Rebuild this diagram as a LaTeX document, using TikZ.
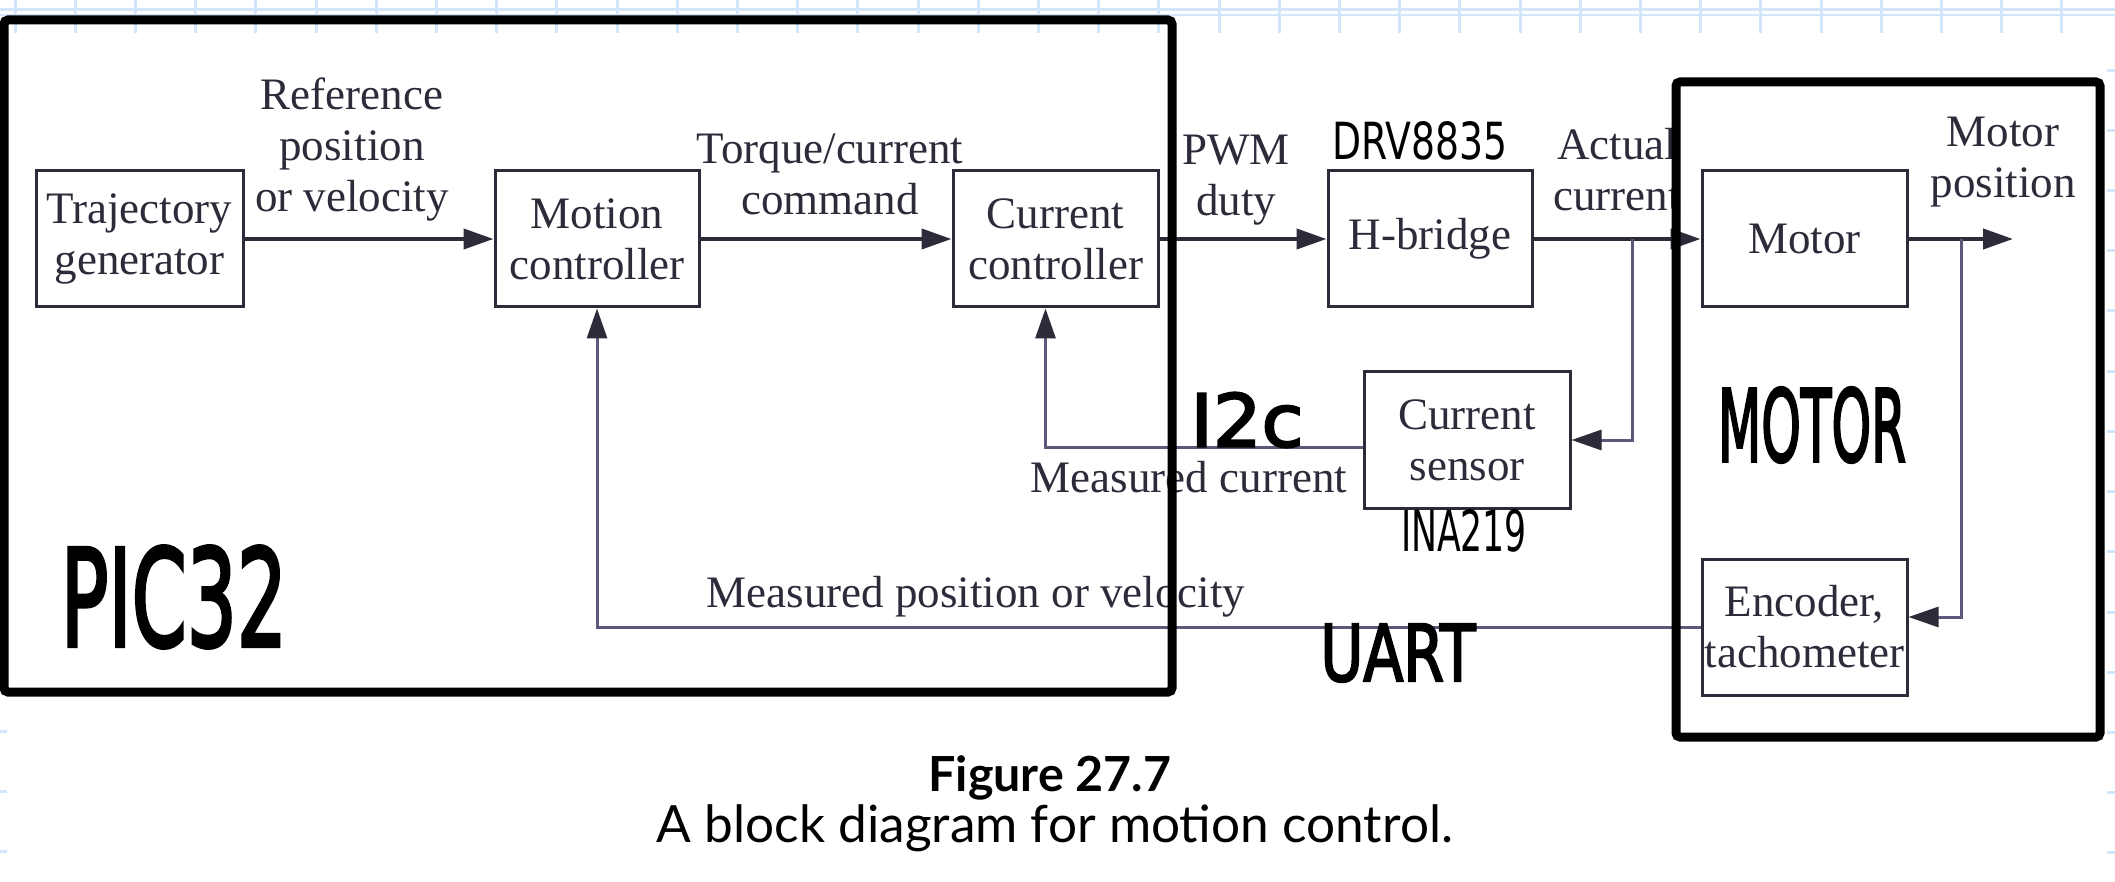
\documentclass[tikz,border=0pt]{standalone}
\usepackage{fontspec}
\setmainfont{Liberation Serif}
\newfontfamily\capfont{Lato}
\newfontfamily\hwfont{DejaVu Sans}
\newfontfamily\hwthick[FakeBold=3]{DejaVu Sans}
\usetikzlibrary{arrows.meta}
\definecolor{gridblue}{HTML}{D3E5FA}
\definecolor{ink}{HTML}{2B2B3A}
\definecolor{fbline}{HTML}{5A5A78}
\tikzset{
  blk/.style={draw=ink, line width=3pt, minimum width=205pt, minimum height=136pt,
    inner sep=0pt, align=center, font=\fontsize{45}{51}\selectfont, text=ink},
  lbl/.style={inner sep=0pt, align=center, font=\fontsize{45}{51}\selectfont, text=ink},
  sig/.style={draw=ink, line width=4pt, -{Triangle[length=30pt,width=20pt]}},
  fbarrow/.style={draw=fbline, line width=3pt, -{Triangle[length=30pt,width=20pt,color=ink]}},
  grp/.style={draw=black, line width=9pt, rounded corners=4pt},
  hw/.style={inner sep=0pt, text=black},
  gridln/.style={draw=gridblue, line width=3pt}
}
\begin{document}
\begin{tikzpicture}[x=1pt, y=-1pt]
\useasboundingbox (0,0) rectangle (2115,882);
\fill[white] (0,0) rectangle (2115,882);
% notebook grid at the margins
\foreach \k in {0,...,34} \draw[gridln] ({15+60.2*\k},0) -- ({15+60.2*\k},33);
\draw[gridblue, line width=2.5pt] (0,9.5) -- (2115,9.5);
\draw[gridblue, line width=2.5pt] (0,15) -- (2115,15);
\foreach \k in {1,...,14} \draw[gridln] (0,{9+60.2*\k}) -- (7,{9+60.2*\k});
\foreach \k in {1,...,14} \draw[gridln] (2107,{10+60.2*\k}) -- (2115,{10+60.2*\k});

% blocks
\node[blk, minimum width=207pt] (traj) at (139.5,239) {Trajectory\\generator};
\node[blk, minimum width=204pt] (motion) at (597,239) {Motion\\controller};
\node[blk] (curctl) at (1055.5,239) {Current\\controller};
\node[blk, minimum width=204pt] (hbr) at (1430,239) {H-bridge};
\node[blk] (motor) at (1804.5,239) {Motor};
\node[blk, minimum width=206pt] (sens) at (1467,440) {Current\\sensor};
\node[blk] (enc) at (1804.5,627) {Encoder,\\tachometer};

% labels
\node[lbl] (lref) at (352,150) {Reference\\position\\or velocity};
\node[lbl] (ltq) at (830,174) {Torque/current\\command};
\node[lbl] (lpwm) at (1236,180) {PWM\\duty};
\node[lbl] (lact) at (1617,170) {Actual\\current};
\node[lbl] (lmpos) at (2003,162) {Motor\\position};
\node[lbl] (lmcur) at (1189,477) {Measured current};
\node[lbl] (lmpv) at (976,597) {Measured position or velocity};

% connectors
\coordinate (mout) at (2013,239);
\coordinate (b1) at (1632,239);
\coordinate (b2) at (1961,239);
\draw[sig] (traj) -- (motion);
\draw[sig] (motion) -- (curctl);
\draw[sig] (curctl) -- (hbr);
\draw[sig] (hbr) -- (motor);
\draw[sig] (motor) -- (mout);
\draw[fbarrow] (b1) |- (sens.east);
\draw[fbarrow] ([yshift=-7pt]sens.west) -| ([xshift=-10pt]curctl.south);
\draw[fbarrow] (b2) |- ([yshift=10pt]enc.east);
\draw[fbarrow] (enc.west) -| (motion.south);

% hand-drawn groupings and notes
\draw[grp] (4,20) rectangle (1172,692);
\draw[grp] (1676,82) rectangle (2100,737);
\node[hw] (tpic) at (174,597) {\resizebox{226pt}{100pt}{\hwthick PIC32}};
\node[hw] (ti2c) at (1247,420) {\resizebox{113pt}{54pt}{\hwthick I2c}};
\node[hw] (tmot) at (1812,425) {\resizebox{188pt}{74pt}{\hwthick MOTOR}};
\node[hw] (tuart) at (1398,653) {\resizebox{155pt}{57pt}{\hwthick UART}};
\node[hw] (tina) at (1464,531) {\resizebox{126pt}{42pt}{\hwfont INA219}};
\node[hw] (tdrv) at (1420,141) {\resizebox{175pt}{38pt}{\hwfont DRV8835}};

% caption
\node[inner sep=0pt] (cap1) at (1050,778) {\resizebox{243pt}{!}{\capfont\bfseries Figure 27.7}};
\node[inner sep=0pt] (cap2) at (1055,828) {\resizebox{796pt}{!}{\capfont A block diagram for motion control.}};
\end{tikzpicture}
\end{document}
